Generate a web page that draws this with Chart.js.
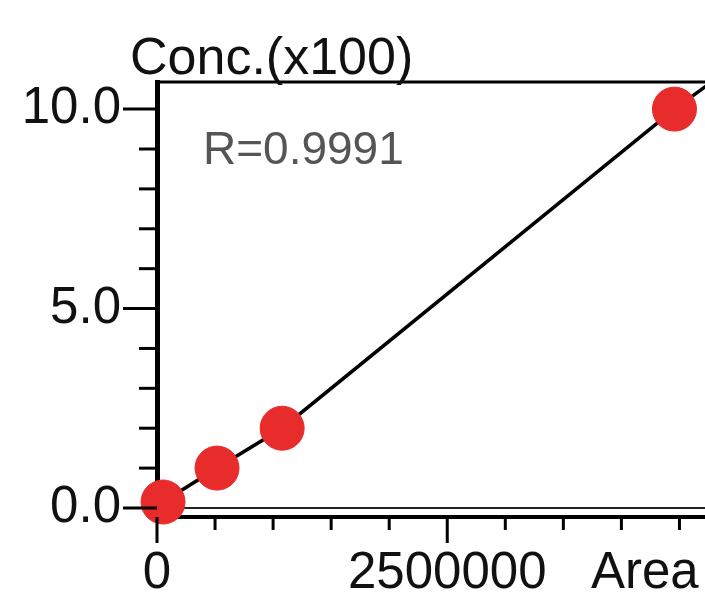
<!DOCTYPE html>
<html>
<head>
<meta charset="utf-8">
<script src="https://cdn.jsdelivr.net/npm/chart.js@4/dist/chart.umd.min.js"></script>
<style>
  html, body { margin: 0; padding: 0; background: #fff; }
  #wrap { width: 705px; height: 594px; }
</style>
</head>
<body>
<div id="wrap"><canvas id="calib" width="705" height="594"></canvas></div>
<script>
// calibration points (area, conc x100)
const areas = [52000, 517000, 1078000, 4457000];
const concs = [0.15, 1.0, 2.0, 10.0];

// calibration curve
const curveAreas = [0, 52000, 517000, 1078000, 4457000, 4740000];
const curveConcs = [0, 0.15, 1.0, 2.0, 10.0, 10.6];

const xTicks = [0, 500000, 1000000, 1500000, 2000000, 2500000, 3000000, 3500000, 4000000, 4500000];
const xLabels = { 0: '0', 2500000: '2500000' };
const yTicks = [0, 1, 2, 3, 4, 5, 6, 7, 8, 9, 10];
const yLabels = { 0: '0.0', 5: '5.0', 10: '10.0' };

const yTitle = 'Conc.(x100)';
const xTitle = 'Area';
const rText = 'R=0.9991';

const FONT = '"Liberation Sans", Arial, Helvetica, sans-serif';

// Tick marks (long for labelled ticks) and extra text
const decor = {
    id: 'decor',
    afterDraw(chart) {
        const ctx = chart.ctx;
        const area = chart.chartArea;
        const xs = chart.scales.x;
        const ys = chart.scales.y;
        ctx.save();
        ctx.strokeStyle = '#000';
        ctx.lineWidth = 3;
        // top frame line
        ctx.beginPath();
        ctx.moveTo(area.left, area.top);
        ctx.lineTo(area.right, area.top);
        ctx.stroke();
        // y ticks
        yTicks.forEach(v => {
            const py = ys.getPixelForValue(v);
            const len = (v in yLabels) ? 34 : 18;
            ctx.beginPath();
            ctx.moveTo(area.left, py);
            ctx.lineTo(area.left - len, py);
            ctx.stroke();
        });
        // x ticks
        xTicks.forEach(v => {
            const px = xs.getPixelForValue(v);
            const len = (v in xLabels) ? 26 : 13;
            ctx.beginPath();
            ctx.moveTo(px, area.bottom);
            ctx.lineTo(px, area.bottom + len);
            ctx.stroke();
        });
        // texts
        ctx.fillStyle = '#111';
        ctx.textBaseline = 'alphabetic';
        ctx.textAlign = 'left';
        ctx.font = '52px ' + FONT;
        ctx.fillText(yTitle, 130, 74);
        ctx.font = '51px ' + FONT;
        ctx.fillText(xTitle, 591, 588);
        ctx.fillStyle = '#555';
        ctx.font = '46px ' + FONT;
        ctx.fillText(rText, 203, 164);
        ctx.restore();
    }
};

new Chart(document.getElementById('calib'), {
    type: 'scatter',
    data: {
        datasets: [{
            label: 'points',
            data: areas.map((a, i) => ({ x: a, y: concs[i] })),
            backgroundColor: '#e82b2b',
            borderColor: '#e82b2b',
            pointRadius: 22,
            pointHoverRadius: 22,
            clip: false,
            order: 0
        }, {
            label: 'curve',
            type: 'line',
            data: curveAreas.map((a, i) => ({ x: a, y: curveConcs[i] })),
            borderColor: '#000',
            borderWidth: 3.5,
            pointRadius: 0,
            tension: 0,
            fill: false,
            order: 1
        }]
    },
    options: {
        responsive: false,
        animation: false,
        layout: { autoPadding: false, padding: { top: 82, left: 0, right: 0, bottom: 0 } },
        plugins: {
            legend: { display: false },
            tooltip: { enabled: false },
            title: { display: false }
        },
        scales: {
            x: {
                type: 'linear',
                min: 0,
                max: 4720000,
                z: 1,
                afterFit: s => { s.height = 77; },
                afterBuildTicks: s => { s.ticks = xTicks.map(v => ({ value: v })); },
                border: { display: true, color: '#000', width: 4 },
                grid: { display: true, drawOnChartArea: false, drawTicks: true, tickLength: 26, tickColor: 'transparent' },
                ticks: {
                    autoSkip: false,
                    maxRotation: 0,
                    padding: 0,
                    color: '#111',
                    font: { family: FONT, size: 51 },
                    callback: v => xLabels[v] || ''
                }
            },
            y: {
                type: 'linear',
                min: -0.226,
                max: 10.68,
                z: 1,
                afterFit: s => { s.width = 157; },
                afterBuildTicks: s => { s.ticks = yTicks.map(v => ({ value: v })); },
                border: { display: true, color: '#000', width: 5 },
                grid: {
                    display: true,
                    drawOnChartArea: true,
                    drawTicks: true,
                    tickLength: 34,
                    tickColor: 'transparent',
                    color: c => (c.tick && c.tick.value === 0) ? '#222' : 'transparent',
                    lineWidth: 2
                },
                ticks: {
                    autoSkip: false,
                    padding: 2,
                    color: '#111',
                    font: { family: FONT, size: 51 },
                    callback: v => yLabels[v] || ''
                }
            }
        }
    },
    plugins: [decor]
});
</script>
</body>
</html>
